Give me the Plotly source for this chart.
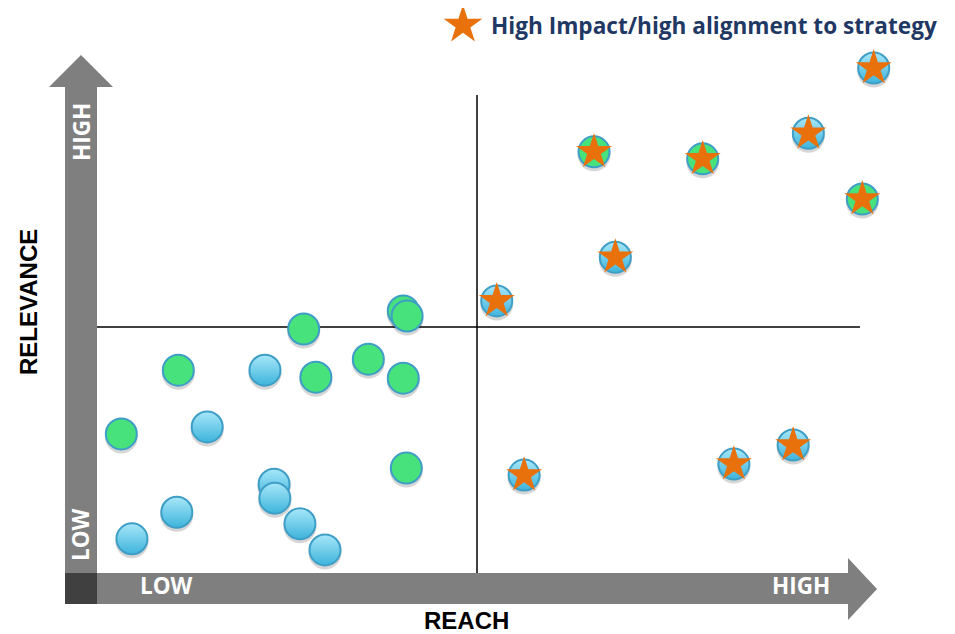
import plotly.graph_objects as go

# ---------------- data (reach / relevance on a 0-100 scale, 50 = quadrant split)
blue_reach = [4.6, 10.5, 14.5, 22.1, 23.3, 23.4, 26.7, 30.0]
blue_rel = [7.8, 13.1, 30.1, 41.4, 18.7, 15.9, 10.8, 5.6]

green_reach = [3.2, 10.7, 27.2, 28.8, 35.7, 40.3, 40.8, 40.3, 40.7]
green_rel = [28.7, 41.4, 49.6, 40.0, 43.6, 53.2, 52.2, 39.8, 21.9]

star_blue_reach = [52.6, 56.2, 68.2, 83.8, 91.6, 93.6, 102.2]
star_blue_rel = [55.2, 20.5, 63.9, 22.7, 26.5, 88.6, 101.6]

star_green_reach = [65.4, 79.7, 100.7]
star_green_rel = [84.9, 83.5, 75.5]

split_value = 50
legend_text = "High Impact/high alignment to strategy"
x_title = "REACH"
y_title = "RELEVANCE"
low_label, high_label = "LOW", "HIGH"

# ---------------- layout calibration (pixels of the window)
WIN_W, WIN_H = 955, 634
PAGE_MARGIN = 8                      # default body margin of the html page
W, H = WIN_W - PAGE_MARGIN, WIN_H - PAGE_MARGIN
X0_PX, X_PER = 97, 7.6
Y0_PX, Y_PER = 578, 5.02
SHADOW_PX = 3

x_range = [(PAGE_MARGIN - X0_PX) / X_PER, (WIN_W - X0_PX) / X_PER]
y_range = [(Y0_PX - WIN_H) / Y_PER, (Y0_PX - PAGE_MARGIN) / Y_PER]

BLUE_TOP, BLUE_BOT = "#A8E7F9", "#3DB4DB"
GREEN = "#48E27D"
EDGE = "#3E9EC6"
ORANGE = "#E8710C"
GRAY = "#7F7F7F"
DARK = "#404040"
NAVY = "#1F3864"

fig = go.Figure()

all_reach = blue_reach + green_reach + star_blue_reach + star_green_reach
all_rel = blue_rel + green_rel + star_blue_rel + star_green_rel

# shadows
fig.add_trace(go.Scatter(
    x=all_reach, y=[r - SHADOW_PX / Y_PER for r in all_rel], mode="markers",
    marker=dict(size=33, color="rgba(0,0,0,0.16)", line=dict(width=0)),
    hoverinfo="skip", showlegend=False, cliponaxis=False))


def circles(xs, ys, fill, grad=None):
    m = dict(size=31, color=fill, line=dict(color=EDGE, width=2))
    if grad:
        m["gradient"] = dict(type="vertical", color=grad)
    fig.add_trace(go.Scatter(x=xs, y=ys, mode="markers", marker=m,
                             hoverinfo="skip", showlegend=False, cliponaxis=False))


circles(blue_reach, blue_rel, BLUE_TOP, BLUE_BOT)
circles(green_reach, green_rel, GREEN)
circles(star_blue_reach, star_blue_rel, BLUE_TOP, BLUE_BOT)
circles(star_green_reach, star_green_rel, GREEN)

fig.add_trace(go.Scatter(
    x=star_blue_reach + star_green_reach, y=star_blue_rel + star_green_rel,
    mode="markers", marker=dict(symbol="star", size=27, color=ORANGE, line=dict(width=0)),
    hoverinfo="skip", showlegend=False, cliponaxis=False))

# legend star on pixel overlay axes
fig.add_trace(go.Scatter(
    x=[463], y=[25], xaxis="x2", yaxis="y2", mode="markers",
    marker=dict(symbol="star", size=29, color=ORANGE, line=dict(width=0)),
    hoverinfo="skip", showlegend=False, cliponaxis=False))

shapes = [
    # vertical arrow
    dict(type="path", xref="x2", yref="y2", layer="below",
         path="M 65 573 L 65 87 L 49 87 L 81 55 L 113 87 L 97 87 L 97 573 Z",
         fillcolor=GRAY, line=dict(width=0)),
    # horizontal arrow
    dict(type="path", xref="x2", yref="y2", layer="below",
         path="M 97 573 L 848 573 L 848 558 L 877 589 L 848 620 L 848 604 L 97 604 Z",
         fillcolor=GRAY, line=dict(width=0)),
    dict(type="rect", xref="x2", yref="y2", layer="below",
         x0=65, x1=97, y0=573, y1=604, fillcolor=DARK, line=dict(width=0)),
    # quadrant lines
    dict(type="line", xref="x", yref="y2", layer="below",
         x0=split_value, x1=split_value, y0=95, y1=578, line=dict(color="black", width=1.5)),
    dict(type="line", xref="x2", yref="y", layer="below",
         x0=95, x1=860, y0=split_value, y1=split_value, line=dict(color="black", width=1.5)),
]

lab_font = dict(family="'Open Sans', Lato, sans-serif", size=22.5, color="white")
ttl_font = dict(family="'Liberation Sans', Arial, sans-serif", size=24, color="black")

annotations = [
    dict(x=81, y=132, text=f"<b>{high_label}</b>", textangle=-90, font=lab_font),
    dict(x=80, y=535, text=f"<b>{low_label}</b>", textangle=-90, font=lab_font),
    dict(x=166, y=585, text=f"<b>{low_label}</b>", font=lab_font),
    dict(x=801, y=585, text=f"<b>{high_label}</b>", font=lab_font),
    dict(x=28, y=302, text=f"<b>{y_title}</b>", textangle=-90, font=ttl_font),
    dict(x=466, y=620, text=f"<b>{x_title}</b>", font=ttl_font),
    dict(x=489, y=25, text=f"<b>{legend_text}</b>", xanchor="left",
         font=dict(family="'Open Sans', Lato, sans-serif", size=22.6, color=NAVY)),
]
for a in annotations:
    a.setdefault("xref", "x2")
    a.setdefault("yref", "y2")
    a["showarrow"] = False

fig.update_layout(
    width=W, height=H, margin=dict(l=0, r=0, t=0, b=0),
    paper_bgcolor="white", plot_bgcolor="white",
    xaxis=dict(range=x_range, visible=False, fixedrange=True),
    yaxis=dict(range=y_range, visible=False, fixedrange=True),
    xaxis2=dict(range=[PAGE_MARGIN, WIN_W], visible=False, overlaying="x", fixedrange=True),
    yaxis2=dict(range=[WIN_H, PAGE_MARGIN], visible=False, overlaying="y", fixedrange=True),
    shapes=shapes, annotations=annotations, showlegend=False,
)

fig.write_html("out.html", config={"displayModeBar": False})
